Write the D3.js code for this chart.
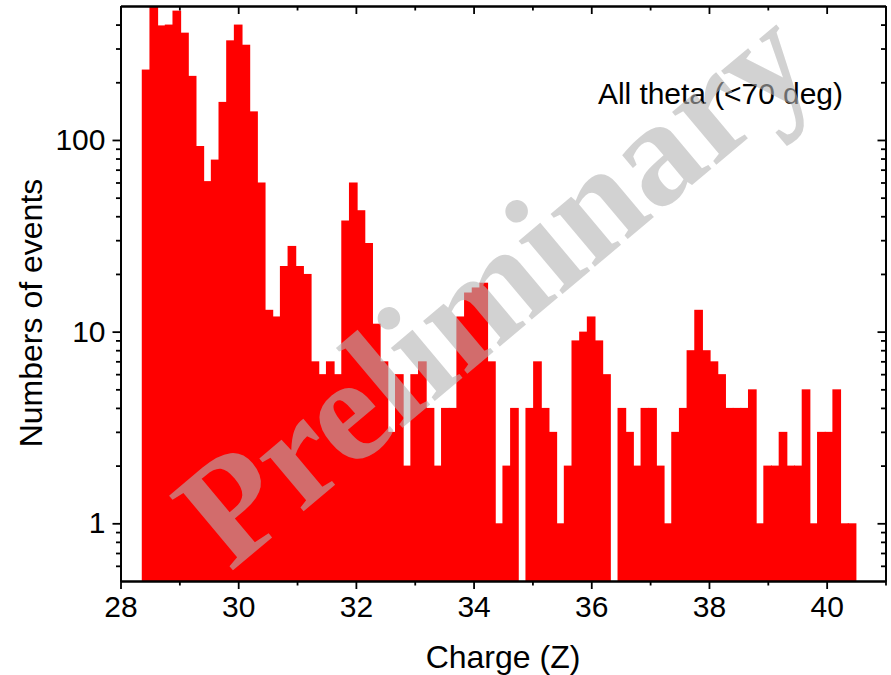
<!DOCTYPE html>
<html>
<head>
<meta charset="utf-8">
<script src="https://cdn.jsdelivr.net/npm/d3@7"></script>
<style>
  html, body { margin: 0; padding: 0; background: #ffffff; }
  svg { display: block; }
</style>
</head>
<body>
<svg id="chart" width="891" height="675"></svg>
<script>
// Histogram binning in charge Z
const binStart = 28.37;
const binWidth = 0.1304;

// Event counts per bin (0 = empty bin)
const counts = [
  233, 540, 396, 400, 473, 363, 216, 93, 61, 79,
  158, 331, 400, 314, 141, 60, 13, 12, 22, 28,
  22, 20, 7, 6, 7, 6, 38, 60, 43, 29,
  11, 7, 3, 6, 2, 6, 7, 4, 2, 4,
  4, 12, 16, 17, 18, 7, 1, 2, 4, 0,
  4, 7, 4, 3, 1, 2, 9, 10, 12, 9,
  6, 0, 4, 3, 2, 4, 4, 2, 1, 3,
  4, 8, 13, 8, 7, 6, 4, 4, 4, 5,
  1, 2, 2, 3, 2, 2, 5, 1, 3, 3,
  5, 1, 1
];

const xDomain = [28, 41];
const yDomain = [0.5, 500];
const xTicks = [28, 30, 32, 34, 36, 38, 40];
const xMinorTicks = [29, 31, 33, 35, 37, 39, 41];
const yTicks = [1, 10, 100];
const yMinorTicks = [0.6, 0.7, 0.8, 0.9, 2, 3, 4, 5, 6, 7, 8, 9,
                     20, 30, 40, 50, 60, 70, 80, 90, 200, 300, 400];

const xTitle = "Charge (Z)";
const yTitle = "Numbers of events";
const note = "All theta (<70 deg)";
const watermark = "Preliminary";

const margin = { left: 120.5, right: 5.5, top: 6, bottom: 94 };
const W = 891, H = 675;
const plotW = W - margin.left - margin.right;
const plotH = H - margin.top - margin.bottom;

const svg = d3.select("#chart");
const g = svg.append("g").attr("transform", `translate(${margin.left},${margin.top})`);

const x = d3.scaleLinear().domain(xDomain).range([0, plotW]);
const y = d3.scaleLog().domain(yDomain).range([plotH, 0]);

svg.append("defs").append("clipPath").attr("id", "plotClip")
  .append("rect").attr("x", 0).attr("y", 0).attr("width", plotW).attr("height", plotH);

// Histogram bars
const bins = counts.map((c, i) => ({
  lo: binStart + i * binWidth,
  hi: binStart + (i + 1) * binWidth,
  count: c
})).filter(d => d.count > 0);

g.append("g").attr("clip-path", "url(#plotClip)")
  .selectAll("rect").data(bins).enter().append("rect")
  .attr("x", d => x(d.lo) - 0.5)
  .attr("width", d => x(d.hi) - x(d.lo) + 1)
  .attr("y", d => y(d.count))
  .attr("height", d => plotH - y(d.count))
  .attr("fill", "#ff0000");

// Axes
const fontTick = "30px 'Liberation Sans', Arial, sans-serif";
function styleAxis(sel, showLabels) {
  sel.selectAll("path.domain").attr("stroke", "#000").attr("stroke-width", 1.8);
  sel.selectAll(".tick line").attr("stroke", "#000").attr("stroke-width", 1.8);
  sel.selectAll(".tick text").style("font", fontTick).attr("fill", "#000");
  if (!showLabels) sel.selectAll(".tick text").remove();
}

// bottom
const gxMinor = g.append("g").attr("transform", `translate(0,${plotH})`)
  .call(d3.axisBottom(x).tickValues(xMinorTicks).tickSize(4.5).tickSizeOuter(0).tickFormat(""));
styleAxis(gxMinor, false);
const gx = g.append("g").attr("transform", `translate(0,${plotH})`)
  .call(d3.axisBottom(x).tickValues(xTicks).tickSize(8).tickPadding(7).tickSizeOuter(0).tickFormat(d3.format("d")));
styleAxis(gx, true);

// top (inward ticks)
const gtMinor = g.append("g")
  .call(d3.axisTop(x).tickValues(xMinorTicks).tickSize(-4.5).tickSizeOuter(0).tickFormat(""));
styleAxis(gtMinor, false);
const gt = g.append("g")
  .call(d3.axisTop(x).tickValues(xTicks).tickSize(-8).tickSizeOuter(0).tickFormat(""));
styleAxis(gt, false);

// left
const gyMinor = g.append("g")
  .call(d3.axisLeft(y).tickValues(yMinorTicks).tickSize(4.5).tickSizeOuter(0).tickFormat(""));
styleAxis(gyMinor, false);
const gy = g.append("g")
  .call(d3.axisLeft(y).tickValues(yTicks).tickSize(8).tickPadding(7).tickSizeOuter(0).tickFormat(d3.format("d")));
styleAxis(gy, true);

// right (inward ticks)
const grMinor = g.append("g").attr("transform", `translate(${plotW},0)`)
  .call(d3.axisRight(y).tickValues(yMinorTicks).tickSize(-4.5).tickSizeOuter(0).tickFormat(""));
styleAxis(grMinor, false);
const gr = g.append("g").attr("transform", `translate(${plotW},0)`)
  .call(d3.axisRight(y).tickValues(yTicks).tickSize(-8).tickSizeOuter(0).tickFormat(""));
styleAxis(gr, false);

// Titles
svg.append("text")
  .attr("transform", `translate(${margin.left + plotW / 2},668)`)
  .attr("text-anchor", "middle")
  .style("font", "32px 'Liberation Sans', Arial, sans-serif")
  .attr("fill", "#000")
  .text(xTitle);

svg.append("text")
  .attr("transform", "translate(42,313) rotate(-90)")
  .attr("text-anchor", "middle")
  .style("font", "32px 'Liberation Sans', Arial, sans-serif")
  .attr("fill", "#000")
  .text(yTitle);

// Annotation
svg.append("text")
  .attr("x", 598).attr("y", 104)
  .attr("textLength", 245)
  .style("font", "30px 'Liberation Sans', Arial, sans-serif")
  .attr("fill", "#000")
  .text(note);

// Watermark
svg.append("text")
  .attr("transform", "translate(497,290) rotate(-40)")
  .attr("text-anchor", "middle")
  .attr("dy", "0.3em")
  .style("font", "bold 150px 'Liberation Serif', 'Times New Roman', serif")
  .attr("fill", "rgb(180,180,180)")
  .attr("fill-opacity", 0.6)
  .text(watermark);
</script>
</body>
</html>
